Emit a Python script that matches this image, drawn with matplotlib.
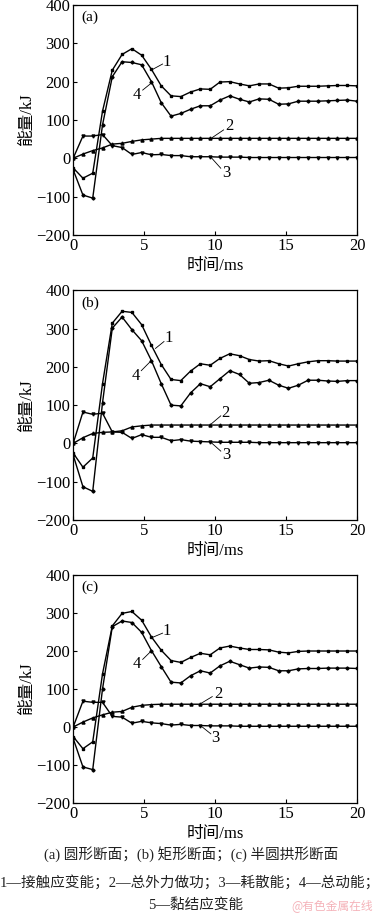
import numpy as np
import matplotlib
matplotlib.use("Agg")
import matplotlib.pyplot as plt

plt.rcParams["font.family"] = ["Liberation Serif", "Noto Sans CJK SC"]

CJK = ["Noto Sans CJK SC", "DejaVu Sans"]
MIXED = ["Liberation Serif", "Noto Sans CJK SC"]

# 30 sample points, 0..20 ms
time_ms = np.linspace(0, 20, 30)

# (a) circular section
a_contact = [-25, -52, -39, 123, 230, 271, 286, 269, 232, 189, 163, 161, 173, 181, 180,
             199, 200, 194, 189, 194, 194, 183, 184, 188, 188, 188, 189, 190, 190, 189]
a_work = [0, 11, 20, 27, 37, 39, 44, 48, 50, 52, 52, 52, 52, 52, 52,
          52, 52, 52, 52, 52, 52, 52, 52, 52, 52, 52, 52, 52, 52, 52]
a_dissip = [0, 58, 58, 62, 33, 28, 10, 15, 9, 10, 7, 7, 4, 4, 4,
            3, 3, 3, 2, 2, 2, 2, 2, 2, 2, 2, 2, 2, 2, 2]
a_kinetic = [-30, -96, -104, 87, 213, 252, 250, 244, 200, 145, 110, 117, 128, 137, 137,
             152, 163, 154, 147, 155, 154, 141, 142, 149, 149, 149, 150, 151, 152, 149]

# (b) rectangular section
b_contact = [-25, -62, -38, 156, 314, 345, 342, 310, 256, 206, 167, 164, 189, 208, 204,
             222, 234, 229, 219, 215, 216, 208, 202, 208, 213, 216, 216, 215, 215, 215]
b_work = [0, 15, 26, 29, 30, 33, 43, 46, 48, 48, 48, 48, 48, 48, 48,
          48, 48, 48, 48, 48, 48, 48, 48, 48, 48, 48, 48, 48, 48, 48]
b_dissip = [0, 82, 76, 79, 30, 29, 13, 23, 16, 16, 7, 10, 6, 5, 4,
            3, 3, 3, 3, 2, 2, 2, 2, 2, 2, 2, 2, 2, 2, 2]
b_kinetic = [-30, -113, -125, 106, 301, 330, 297, 268, 216, 156, 100, 98, 132, 156, 148,
             169, 190, 180, 157, 159, 165, 152, 144, 152, 165, 165, 163, 162, 164, 164]

# (c) semicircular arch section
c_contact = [-25, -57, -39, 140, 266, 299, 304, 281, 237, 202, 175, 170, 183, 194, 190,
             208, 213, 208, 204, 204, 203, 197, 195, 199, 200, 200, 200, 200, 200, 200]
c_work = [0, 13, 24, 32, 39, 41, 52, 57, 59, 60, 60, 60, 60, 60, 60,
          60, 60, 60, 60, 60, 60, 60, 60, 60, 60, 60, 60, 60, 60, 60]
c_dissip = [0, 68, 65, 65, 28, 26, 10, 15, 11, 9, 5, 7, 4, 4, 3,
            3, 3, 2, 2, 2, 2, 2, 2, 2, 2, 2, 2, 2, 2, 2]
c_kinetic = [-30, -105, -112, 100, 264, 279, 275, 249, 201, 159, 118, 116, 135, 148, 142,
             161, 173, 164, 155, 158, 157, 148, 148, 153, 154, 154, 155, 155, 155, 154]

panel_tags = ["(a)", "(b)", "(c)"]

# label text position, leader start -> end (data coords)
callouts = [
    {"1": ((6.6, 252), (5.6, 232), (6.3, 246)),
     "4": ((4.5, 165), (4.9, 178), (5.5, 196)),
     "2": ((11.0, 83), (9.8, 54), (10.6, 74)),
     "3": ((10.8, -39), (9.7, 3), (10.4, -26))},
    {"1": ((6.7, 275), (5.8, 248), (6.4, 266)),
     "4": ((4.4, 176), (4.8, 190), (5.5, 216)),
     "2": ((10.7, 80), (9.7, 50), (10.4, 72)),
     "3": ((10.8, -30), (9.7, 3), (10.4, -20))},
    {"1": ((6.6, 253), (5.6, 236), (6.3, 247)),
     "4": ((4.5, 166), (4.9, 178), (5.5, 200)),
     "2": ((10.2, 87), (9.0, 62), (9.8, 80)),
     "3": ((10.0, -28), (9.0, 3), (9.7, -18))},
]

panels = [
    (a_contact, a_work, a_dissip, a_kinetic),
    (b_contact, b_work, b_dissip, b_kinetic),
    (c_contact, c_work, c_dissip, c_kinetic),
]

fig = plt.figure(figsize=(3.79, 9.14), dpi=100)

boxes = [
    [0.193, 0.743, 0.749, 0.2515],
    [0.193, 0.431, 0.749, 0.2515],
    [0.193, 0.1214, 0.749, 0.2495],
]

for box, data, tag, notes in zip(boxes, panels, panel_tags, callouts):
    ax = fig.add_axes(box)
    contact, work, dissip, kinetic = data
    kw = dict(color="black", lw=1.0)
    ax.plot(time_ms, contact, marker="s", ms=2.0, **kw)
    ax.plot(time_ms, work, marker="^", ms=2.2, **kw)
    ax.plot(time_ms, dissip, marker="v", ms=2.2, **kw)
    ax.plot(time_ms, kinetic, marker="D", ms=1.6, **kw)

    for lab, (txt, p0, p1) in notes.items():
        ax.plot([p0[0], p1[0]], [p0[1], p1[1]], color="black", lw=0.6)
        ax.text(txt[0], txt[1], lab, fontsize=12, ha="center", va="center")

    ax.text(0.03, 0.945, tag, transform=ax.transAxes, fontsize=11,
            ha="left", va="center")
    ax.set_xlim(0, 20)
    ax.set_ylim(-200, 400)
    ax.set_xticks([0, 5, 10, 15, 20])
    ax.set_yticks([-200, -100, 0, 100, 200, 300, 400])
    ax.set_yticklabels(["\u2212200", "\u2212100", "0", "100", "200", "300", "400"])
    ax.tick_params(direction="in", labelsize=12, length=3, pad=2)
    for sp in ax.spines.values():
        sp.set_linewidth(0.9)
    ax.set_xlabel("时间/ms", family=MIXED, fontsize=12, labelpad=3)
    ax.set_ylabel("能量/kJ", family=MIXED, fontsize=12, labelpad=1)

fig.text(0.505, 1 - 854 / 914, "(a) 圆形断面；(b) 矩形断面；(c) 半圆拱形断面",
         family=MIXED, fontsize=10.5, ha="center", va="center", color="#222222")
fig.text(0.5, 1 - 882 / 914, "1—接触应变能；2—总外力做功；3—耗散能；4—总动能；",
         family=MIXED, fontsize=10.5, ha="center", va="center", color="#222222")
fig.text(0.515, 1 - 905 / 914, "5—黏结应变能",
         family=MIXED, fontsize=10.5, ha="center", va="center", color="#222222")
fig.text(0.985, 1 - 906 / 914, "@有色金属在线", family=CJK, fontsize=8.5,
         ha="right", va="center", color="#f2a0a8", alpha=0.8)

fig.savefig("out.png", dpi=100)
